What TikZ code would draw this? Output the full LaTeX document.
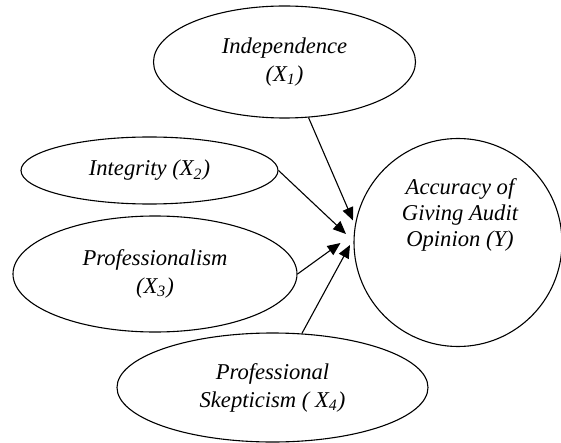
\documentclass[tikz,border=0pt]{standalone}
\usepackage{fontspec}
\setmainfont{Liberation Serif}
\usetikzlibrary{shapes.geometric,arrows.meta}

\begin{document}
\begin{tikzpicture}[x=0.5pt, y=-0.5pt,
  var/.style={draw, line width=0.55pt, ellipse, inner sep=0pt, align=center,
    font=\fontsize{11.3}{14}\selectfont\itshape},
  arr/.style={line width=0.55pt, -{Triangle[length=6.5pt, width=5.5pt]}}]
\useasboundingbox (0,0) rectangle (561,443);
\node [var, minimum width=131pt, minimum height=56pt] (ind) at (284.5,62) {Independence\\(X\textsubscript{1})};
\node [var, minimum width=128.5pt, minimum height=33.5pt] (int) at (149.5,170.5) {Integrity (X\textsubscript{2})};
\node [var, minimum width=142pt, minimum height=58pt] (prof) at (155,274) {Professionalism\\(X\textsubscript{3})};
\node [var, minimum width=155.5pt, minimum height=54.5pt] (skep) at (272.5,387.5) {Professional\\Skepticism ( X\textsubscript{4})};
\node [draw, line width=0.55pt, circle, minimum size=104pt, inner sep=0pt] (acc) at (458,242.5) {};
\node [align=center, font=\fontsize{11.3}{12.8}\selectfont\itshape] (acctxt) at (460,215) {Accuracy of\\Giving Audit\\Opinion (Y)};
% arrow ends
\coordinate (t1) at (353,220.5);
\coordinate (t2) at (346,234);
\coordinate (t3) at (340.5,243);
\coordinate (t4) at (350,245);
\foreach \s/\t in {ind/t1,int.east/t2,prof.east/t3,skep/t4} {
  \draw [arr] (\s) -- (\t);
}
\end{tikzpicture}
\end{document}
